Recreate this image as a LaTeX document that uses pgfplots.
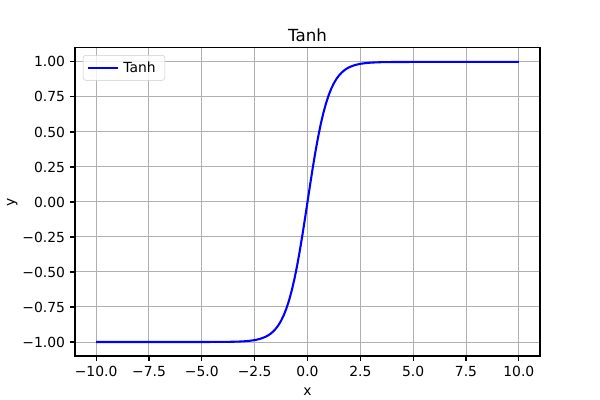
\documentclass[border=0pt]{standalone}
\usepackage{pgfplots}
\pgfplotsset{compat=1.18}
\usepackage{fontspec}
\setmainfont{DejaVu Sans}
\begin{document}
\begin{tikzpicture}
\useasboundingbox (-54pt,-31.68pt) rectangle (378pt,256.32pt);
\begin{axis}[
  scale only axis,
  width=334.8pt, height=221.8pt,
  xmin=-11, xmax=11, ymin=-1.1, ymax=1.1,
  axis line style={line width=0.8pt},
  xtick={-10,-7.5,-5,-2.5,0,2.5,5,7.5,10},
  xticklabels={−10.0,−7.5,−5.0,−2.5,0.0,2.5,5.0,7.5,10.0},
  ytick={-1,-0.75,-0.5,-0.25,0,0.25,0.5,0.75,1},
  yticklabels={−1.00,−0.75,−0.50,−0.25,0.00,0.25,0.50,0.75,1.00},
  xtick pos=bottom, ytick pos=left,
  tick align=outside,
  major tick length=3.5pt,
  every tick/.style={black, line width=0.8pt},
  xticklabel style={font=\fontsize{10}{12}\selectfont, inner sep=0pt},
  yticklabel style={font=\fontsize{10}{12}\selectfont, inner sep=0pt},
  xticklabel shift=3.5pt,
  yticklabel shift=3.5pt,
  grid=major,
  major grid style={line width=0.7pt, color={rgb,255:red,176;green,176;blue,176}},
  title={Tanh},
  title style={font=\fontsize{12}{14}\selectfont, at={(axis description cs:0.5,1.042)}, anchor=center, inner sep=0pt, yshift=-6.5pt},
  xlabel={x}, ylabel={y},
  label style={font=\fontsize{10}{12}\selectfont},
  xlabel style={at={(axis description cs:0.5,-0.115)}, anchor=center, inner sep=0pt},
  ylabel style={at={(axis description cs:-0.135,0.5)}, anchor=center, inner sep=0pt},
  legend style={at={(0.017,0.977)}, anchor=north west, draw={rgb,255:red,204;green,204;blue,204}, rounded corners=2pt, fill=white, fill opacity=0.8, text opacity=1, font=\fontsize{10}{12}\selectfont, inner xsep=3pt, inner ysep=2.5pt, nodes={inner xsep=3.5pt, inner ysep=2pt}},
  legend cell align=left,
  legend image code/.code={\draw[#1] (0pt,0pt) -- (21pt,0pt);},
]
\addplot[color=blue, line width=1.5pt] coordinates {
(-10,-1) (-9,-1) (-8,-1) (-7,-0.999998) (-6,-0.999988) (-5,-0.999909) (-4.5,-0.999753) (-4,-0.999329) (-3.75,-0.99889) (-3.5,-0.998178) (-3.25,-0.99700) (-3,-0.995055) (-2.75,-0.991815) (-2.5,-0.986614) (-2.25,-0.978026) (-2,-0.964028) (-1.875,-0.95405) (-1.75,-0.941376) (-1.625,-0.92535) (-1.5,-0.905148) (-1.375,-0.87983) (-1.25,-0.848284) (-1.125,-0.80930) (-1,-0.761594) (-0.875,-0.70391) (-0.75,-0.635149) (-0.625,-0.55460) (-0.5,-0.462117) (-0.375,-0.35835) (-0.25,-0.244919) (-0.125,-0.12435) (0,0)
(0.125,0.12435) (0.25,0.244919) (0.375,0.35835) (0.5,0.462117) (0.625,0.55460) (0.75,0.635149) (0.875,0.70391) (1,0.761594) (1.125,0.80930) (1.25,0.848284) (1.375,0.87983) (1.5,0.905148) (1.625,0.92535) (1.75,0.941376) (1.875,0.95405) (2,0.964028) (2.25,0.978026) (2.5,0.986614) (2.75,0.991815) (3,0.995055) (3.25,0.99700) (3.5,0.998178) (3.75,0.99889) (4,0.999329) (4.5,0.999753) (5,0.999909) (6,0.999988) (7,0.999998) (8,1) (9,1) (10,1)
};
\addlegendentry{Tanh}
\end{axis}
\end{tikzpicture}
\end{document}
